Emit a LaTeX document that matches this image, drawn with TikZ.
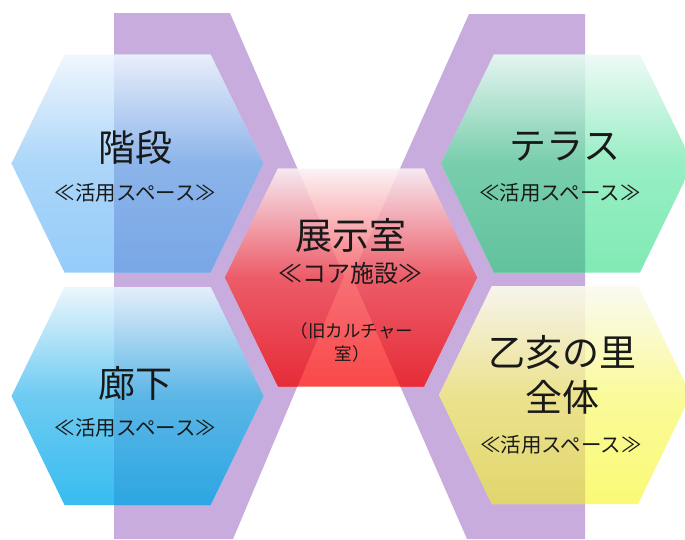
\documentclass[tikz,border=0pt]{standalone}
\usepackage{fontspec}
\newfontfamily\jp{Noto Sans CJK JP}
\definecolor{purp}{RGB}{200,172,222}
\definecolor{ink}{RGB}{25,25,25}
% top-left blue
\definecolor{aWt}{RGB}{240,246,253}\definecolor{aWm}{RGB}{172,214,249}\definecolor{aWb}{RGB}{148,204,250}
\definecolor{aPt}{RGB}{232,238,250}\definecolor{aPm}{RGB}{140,180,234}\definecolor{aPb}{RGB}{120,166,230}
% bottom-left blue
\definecolor{bWt}{RGB}{236,246,253}\definecolor{bWm}{RGB}{110,203,242}\definecolor{bWb}{RGB}{56,188,240}
\definecolor{bPt}{RGB}{228,238,250}\definecolor{bPm}{RGB}{92,182,230}\definecolor{bPb}{RGB}{44,166,226}
% green
\definecolor{dWt}{RGB}{238,250,246}\definecolor{dWm}{RGB}{152,238,197}\definecolor{dWb}{RGB}{128,234,180}
\definecolor{dPt}{RGB}{228,244,240}\definecolor{dPm}{RGB}{120,206,172}\definecolor{dPb}{RGB}{98,194,158}
% yellow
\definecolor{eWt}{RGB}{250,250,242}\definecolor{eWm}{RGB}{250,250,155}\definecolor{eWb}{RGB}{250,250,118}
\definecolor{ePt}{RGB}{246,244,236}\definecolor{ePm}{RGB}{236,226,142}\definecolor{ePb}{RGB}{224,214,108}
% red
\definecolor{cWt}{RGB}{252,242,244}\definecolor{cWm}{RGB}{246,112,118}\definecolor{cWb}{RGB}{250,72,72}
\definecolor{cPt}{RGB}{246,232,240}\definecolor{cPm}{RGB}{236,92,104}\definecolor{cPb}{RGB}{230,44,56}
\newcommand\hexat[2]{({#1-126},#2) -- ({#1-73},{#2-109}) -- ({#1+73},{#2-109}) -- ({#1+126},#2) -- ({#1+73},{#2+109}) -- ({#1-73},{#2+109}) -- cycle}
\newcommand\purplepath{(114,13) -- (230,13) -- (344,276) -- (233,539) -- (114,539) -- cycle (469,14) -- (585,14) -- (585,539) -- (467,539) -- (352,276) -- cycle}
\newcommand\hexfill[3]{%
  \shade[top color=#3Wt, bottom color=#3Wb, middle color=#3Wm] \hexat{#1}{#2};
  \begin{scope}
    \clip \hexat{#1}{#2};
    \clip \purplepath;
    \shade[top color=#3Pt, bottom color=#3Pb, middle color=#3Pm] \hexat{#1}{#2};
  \end{scope}}
\begin{document}
\begin{tikzpicture}[x=1pt,y=-1pt,
  title/.style={font=\jp\fontsize{37}{45}\selectfont, text=ink, inner sep=0pt, align=center},
  sub/.style={font=\jp\fontsize{20.5}{24}\selectfont, text=ink, inner sep=0pt},
  core/.style={font=\jp\fontsize{24}{28}\selectfont, text=ink, inner sep=0pt},
  note/.style={font=\jp\fontsize{17.5}{23}\selectfont, text=ink, inner sep=0pt, align=center}]
\useasboundingbox (0,0) rectangle (685,539);
\fill[white] (0,0) rectangle (685,539);
\clip (0,0) rectangle (685,539);
\fill[purp] \purplepath;
\hexfill{137.5}{163.5}{a}
\hexfill{137.5}{396}{b}
\hexfill{567}{163.5}{d}
\hexfill{565}{395}{e}
\hexfill{351}{277.5}{c}
\node[title] (tA) at (135,147) {階段};
\node[sub] (sA) at (135.5,193) {≪活用スペース≫};
\node[title] (tB) at (135,383) {廊下};
\node[sub] (sB) at (135.5,428) {≪活用スペース≫};
\node[title] (tD) at (565,147) {テラス};
\node[sub] (sD) at (560,193) {≪活用スペース≫};
\node[title] (tE) at (562,374.5) {乙亥の里\\全体};
\node[sub] (sE) at (561,445) {≪活用スペース≫};
\node[title] (tC) at (351,235) {展示室};
\node[core] (cC) at (350,273) {≪コア施設≫};
\node[note] (nC) at (352,342) {（旧カルチャー\\室）};
\end{tikzpicture}
\end{document}
